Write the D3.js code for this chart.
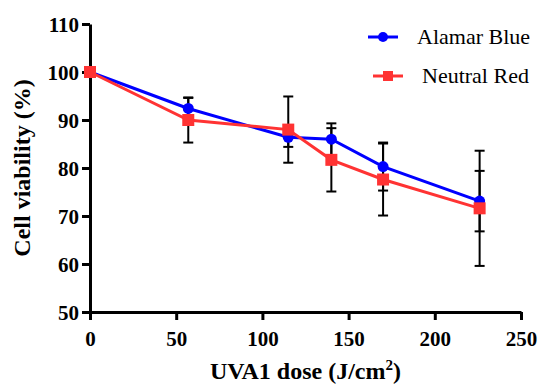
<!DOCTYPE html>
<html>
<head>
<meta charset="utf-8">
<script src="https://cdn.jsdelivr.net/npm/d3@7"></script>
<style>
  body { margin: 0; background: #fff; }
</style>
</head>
<body>
<div id="chart"></div>
<script>
// doses and viability values
const doses = [0, 57, 115, 140, 170, 226];
const alamarMean = [100, 92.4, 86.4, 86.0, 80.3, 73.1];
const alamarErr = [0, 2.2, 2.0, 3.3, 5.0, 6.3];
const neutralMean = [100, 90.0, 88.0, 81.7, 77.6, 71.6];
const neutralErr = [0, 4.7, 6.9, 6.6, 7.5, 12.0];
const xTicks = [0, 50, 100, 150, 200, 250];
const yTicks = [50, 60, 70, 80, 90, 100, 110];

const FONT = 'Liberation Serif, Tinos, Times New Roman, serif';
const width = 540, height = 386;
const margin = { top: 24, right: 19, bottom: 74, left: 90 };

const svg = d3.select('#chart')
    .append('svg')
    .attr('width', width)
    .attr('height', height)
    .attr('font-family', FONT);

const x = d3.scaleLinear().domain([0, 250]).range([margin.left, width - margin.right]);
const y = d3.scaleLinear().domain([50, 110]).range([height - margin.bottom, margin.top]);

// axes
const xAxis = svg.append('g')
    .attr('transform', `translate(0,${y(50)})`)
    .call(d3.axisBottom(x).tickValues(xTicks).tickSize(8).tickSizeOuter(0).tickPadding(6));
const yAxis = svg.append('g')
    .attr('transform', `translate(${x(0)},0)`)
    .call(d3.axisLeft(y).tickValues(yTicks).tickSize(8).tickSizeOuter(0).tickPadding(3));

[xAxis, yAxis].forEach(g => {
    g.attr('font-family', FONT).attr('font-size', 21).attr('font-weight', 'bold');
    g.select('.domain').attr('stroke', '#000').attr('stroke-width', 3);
    g.selectAll('.tick line').attr('stroke', '#000').attr('stroke-width', 3);
    g.selectAll('.tick text').attr('fill', '#000');
});
xAxis.selectAll('.tick text').attr('dy', '0.95em');
yAxis.selectAll('.tick text').attr('dy', '0.34em');

// axis titles
svg.append('text')
    .attr('x', (x(0) + x(250)) / 2)
    .attr('y', 379)
    .attr('text-anchor', 'middle')
    .attr('font-size', 24)
    .attr('font-weight', 'bold')
    .text('UVA1 dose (J/cm')
    .call(t => t.append('tspan').attr('dy', -9).attr('font-size', 15).text('2'))
    .call(t => t.append('tspan').attr('dy', 9).text(')'));

svg.append('text')
    .attr('transform', `translate(30,${(y(50) + y(110)) / 2}) rotate(-90)`)
    .attr('text-anchor', 'middle')
    .attr('font-size', 24)
    .attr('font-weight', 'bold')
    .text('Cell viability (%)');

const series = [
    { name: 'Alamar Blue', mean: alamarMean, err: alamarErr, color: '#0000ff', shape: 'circle' },
    { name: 'Neutral Red', mean: neutralMean, err: neutralErr, color: '#ff3333', shape: 'square' }
];

const line = d3.line().x(d => x(d.dose)).y(d => y(d.v));

// error bars
series.forEach(s => {
    const pts = doses.map((d, i) => ({ dose: d, v: s.mean[i], e: s.err[i] }));
    const eb = svg.append('g');
    pts.filter(p => p.e > 0).forEach(p => {
        eb.append('line')
            .attr('x1', x(p.dose)).attr('x2', x(p.dose))
            .attr('y1', y(p.v + p.e)).attr('y2', y(p.v - p.e))
            .attr('stroke', '#000').attr('stroke-width', 2);
        [p.v + p.e, p.v - p.e].forEach(v => {
            eb.append('line')
                .attr('x1', x(p.dose) - 5).attr('x2', x(p.dose) + 5)
                .attr('y1', y(v)).attr('y2', y(v))
                .attr('stroke', '#000').attr('stroke-width', 2);
        });
    });
});

// lines and markers
series.forEach(s => {
    const pts = doses.map((d, i) => ({ dose: d, v: s.mean[i] }));
    svg.append('path')
        .datum(pts)
        .attr('d', line)
        .attr('fill', 'none')
        .attr('stroke', s.color)
        .attr('stroke-width', 3);

    if (s.shape === 'circle') {
        svg.selectAll(null).data(pts).join('circle')
            .attr('cx', d => x(d.dose)).attr('cy', d => y(d.v))
            .attr('r', 5.5).attr('fill', s.color);
    } else {
        svg.selectAll(null).data(pts).join('rect')
            .attr('x', d => x(d.dose) - 6).attr('y', d => y(d.v) - 6)
            .attr('width', 12).attr('height', 12).attr('fill', s.color);
    }
});

// legend
const legend = svg.append('g');
series.forEach((s, i) => {
    const ly = 37 + i * 39;
    const lx = i === 0 ? 368 : 373;
    legend.append('line')
        .attr('x1', lx).attr('x2', lx + 30)
        .attr('y1', ly).attr('y2', ly)
        .attr('stroke', s.color).attr('stroke-width', 3);
    if (s.shape === 'circle') {
        legend.append('circle').attr('cx', lx + 15).attr('cy', ly).attr('r', 5).attr('fill', s.color);
    } else {
        legend.append('rect').attr('x', lx + 10).attr('y', ly - 5).attr('width', 10).attr('height', 10).attr('fill', s.color);
    }
    legend.append('text')
        .attr('x', lx + 49)
        .attr('y', ly + 7)
        .attr('font-size', 22)
        .attr('fill', '#000')
        .text(s.name);
});
</script>
</body>
</html>
